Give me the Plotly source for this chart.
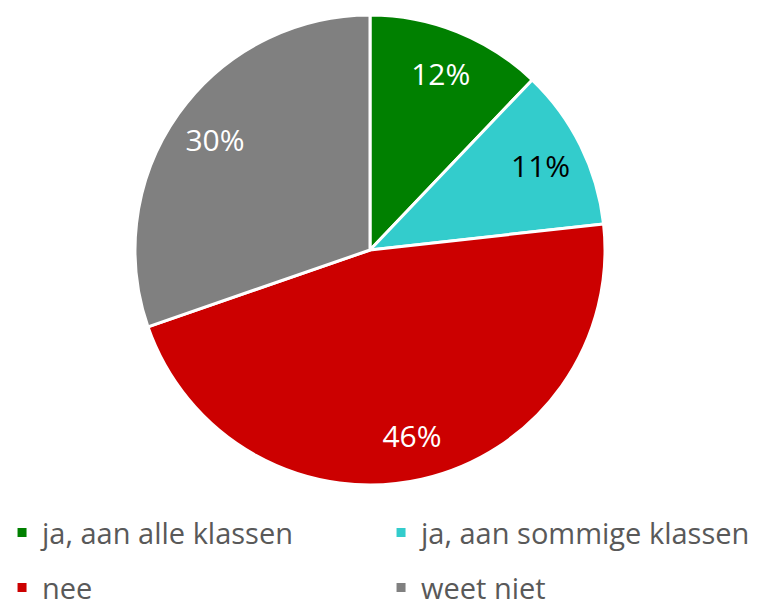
import plotly.graph_objects as go

labels = ["ja, aan alle klassen", "ja, aan sommige klassen", "nee", "weet niet"]
values = [12, 11, 46, 30]
colors = ["#008000", "#33CCCC", "#CC0000", "#808080"]
text_colors = ["white", "black", "white", "white"]

# legend font is set larger than the shown text so the rows get more space
legend_names = ['<span style="font-size:29px;baseline-shift:4px">%s</span>' % l for l in labels]

# page body has an 8px margin, so the figure is 8px smaller each way
W, H = 755, 593
dom = dict(x=[0, 724 / W], y=[0, 1])

fig = go.Figure()
fig.add_trace(go.Pie(
    labels=legend_names,
    values=values,
    sort=False,
    direction="clockwise",
    rotation=0,
    domain=dom,
    marker=dict(colors=colors, line=dict(color="white", width=3)),
    textinfo="none",
    hoverinfo="value",
))
# transparent donut on top, only to put the percentages further out
fig.add_trace(go.Pie(
    labels=labels,
    values=values,
    sort=False,
    direction="clockwise",
    rotation=0,
    domain=dom,
    hole=0.62,
    marker=dict(colors=["rgba(0,0,0,0)"] * 4, line=dict(width=0)),
    texttemplate="%{value}%",
    textposition="inside",
    insidetextorientation="horizontal",
    textfont=dict(family="Open Sans", size=30, color=text_colors),
    showlegend=False,
    hoverinfo="skip",
))

fig.update_layout(
    width=W,
    height=H,
    margin=dict(l=0, r=0, t=7, b=116, autoexpand=False),
    paper_bgcolor="white",
    font=dict(family="Open Sans", color="#595959"),
    legend=dict(
        orientation="h",
        x=-0.0079,
        xanchor="left",
        y=-0.032,
        yanchor="top",
        entrywidth=334,
        font=dict(size=40, color="#595959"),
        traceorder="normal",
    ),
)

fig.write_html("out.html")
